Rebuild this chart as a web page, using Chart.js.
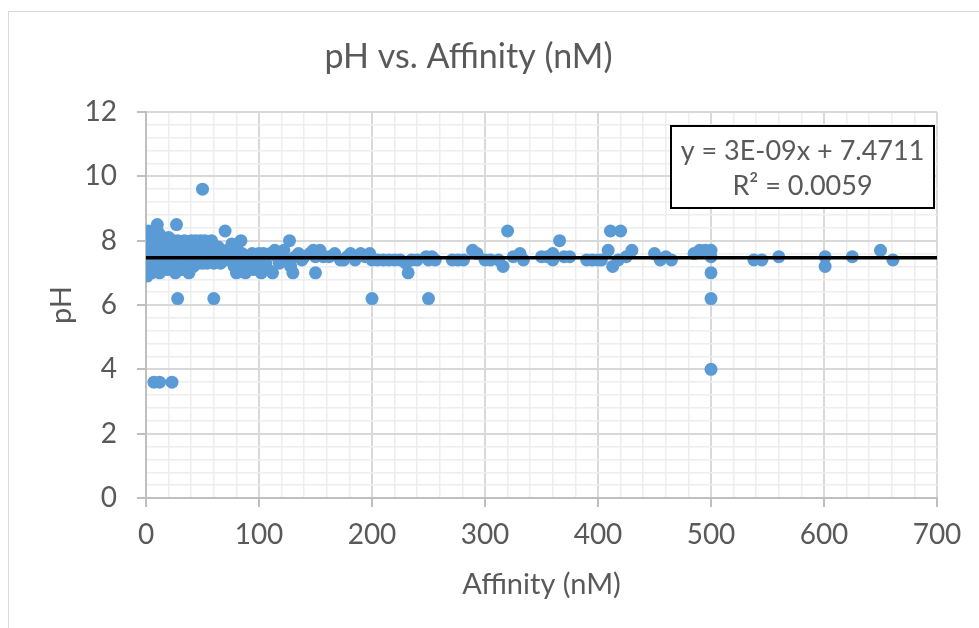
<!DOCTYPE html>
<html>
<head>
<meta charset="utf-8">
<script src="https://cdn.jsdelivr.net/npm/chart.js@4"></script>
<style>
  html, body { margin: 0; padding: 0; background: #fff; overflow: hidden; }
  #wrap { position: relative; width: 979px; height: 628px; }
  #frame { position: absolute; left: 8px; top: 11px; width: 1100px; height: 800px; border: 1.5px solid #d9d9d9; box-sizing: border-box; }
  canvas { position: absolute; left: 0; top: 0; }
</style>
</head>
<body>
<div id="wrap">
  <div id="frame"></div>
  <canvas id="c" width="979" height="628"></canvas>
</div>
<script>
// ---- Data ----
const affinity = [
  // 0-20 nM
  0,0,0,0,0,1,1,1,2,2,3,3,4,4,4,5,5,6,6,7,7,8,8,9,9,10,10,11,11,12,12,13,13,14,15,15,16,17,18,19,19,20,20,10,27,
  7,12,23,
  // 20-60 nM
  22,22,24,24,26,26,28,28,30,30,32,32,34,34,36,36,38,38,40,40,42,42,44,44,46,46,48,48,50,50,52,52,54,55,57,58,60,60,
  28,60,50,
  // 60-100 nM
  62,64,66,68,70,70,72,74,76,78,78,80,80,82,84,85,86,88,90,92,94,95,98,100,100,
  // 100-150 nM
  102,104,106,108,110,112,114,116,118,120,122,125,127,128,130,132,135,138,140,145,148,150,150,
  // 150-260 nM
  154,157,162,167,172,175,178,181,185,190,194,198,200,200,205,210,215,220,225,230,232,235,240,248,250,250,253,256,
  // 260-440 nM
  271,276,281,289,293,300,305,312,316,320,325,331,334,350,355,360,360,366,370,375,390,395,400,403,409,411,413,418,420,425,430,
  // 440-700 nM
  450,455,460,465,485,490,495,500,500,500,500,500,538,545,560,601,601,625,650,661
];
const ph = [
  // 0-20 nM
  7.0,7.4,7.6,8.0,8.2,6.9,7.2,7.8,7.5,8.3,7.1,7.9,7.3,7.6,8.1,7.0,7.7,7.4,8.2,7.2,7.9,7.5,8.0,7.1,7.7,7.3,8.3,7.6,7.9,7.0,8.2,7.4,7.8,7.2,7.6,8.0,7.3,7.8,7.5,7.1,7.9,7.6,8.1,8.5,8.5,
  3.6,3.6,3.6,
  // 20-60 nM
  7.2,7.8,7.5,8.0,7.0,7.7,7.3,8.0,7.5,7.9,7.1,7.7,7.4,8.0,7.2,7.8,7.0,7.6,7.4,8.0,7.2,7.8,7.5,8.0,7.3,7.7,7.5,8.0,7.3,7.8,7.5,8.0,7.3,7.7,7.5,8.0,7.3,7.8,
  6.2,6.2,9.6,
  // 60-100 nM
  7.5,7.8,7.3,7.6,8.3,7.4,7.7,7.5,7.9,7.2,7.6,7.0,7.8,7.4,8.0,7.6,7.2,7.0,7.5,7.3,7.6,7.1,7.4,7.6,7.2,
  // 100-150 nM
  7.0,7.6,7.3,7.1,7.6,7.0,7.7,7.5,7.3,7.5,7.7,7.4,8.0,7.2,7.0,7.5,7.6,7.4,7.5,7.6,7.7,7.0,7.5,
  // 150-260 nM
  7.7,7.5,7.5,7.6,7.4,7.4,7.5,7.6,7.4,7.6,7.5,7.6,7.4,6.2,7.4,7.4,7.4,7.4,7.4,7.3,7.0,7.4,7.4,7.5,7.4,6.2,7.5,7.4,
  // 260-440 nM
  7.4,7.4,7.4,7.7,7.6,7.4,7.4,7.4,7.2,8.3,7.5,7.6,7.4,7.5,7.5,7.6,7.4,8.0,7.5,7.5,7.4,7.4,7.4,7.4,7.7,8.3,7.2,7.4,8.3,7.5,7.7,
  // 440-700 nM
  7.6,7.4,7.5,7.4,7.6,7.7,7.7,7.7,7.5,7.0,6.2,4.0,7.4,7.4,7.5,7.5,7.2,7.5,7.7,7.4
];
// Linear trendline reported in the chart
const trendSlope = 3e-9;
const trendIntercept = 7.4711;
const trendText = ["y = 3E-09x + 7.4711", "R\u00B2 = 0.0059"];
const xTickLabels = [0, 100, 200, 300, 400, 500, 600, 700];
const yTickLabels = [0, 2, 4, 6, 8, 10, 12];

const points = affinity.map((x, i) => ({ x: x, y: ph[i] }));
const trendPoints = [0, 700].map(x => ({ x: x, y: trendSlope * x + trendIntercept }));

const FONT = 'Lato, "Open Sans", sans-serif';
const TXT = '#595959';
const isMult = (v, m) => Math.abs(v / m - Math.round(v / m)) < 1e-6;

const eqBox = {
  id: 'eqBox',
  afterDraw(chart) {
    const a = chart.chartArea, ctx = chart.ctx;
    const w = 263, h = 82;
    const x0 = a.right - 3 - w, y0 = a.top + 14;
    ctx.save();
    ctx.fillStyle = '#fff';
    ctx.fillRect(x0, y0, w, h);
    ctx.lineWidth = 2;
    ctx.strokeStyle = '#000';
    ctx.strokeRect(x0, y0, w, h);
    ctx.fillStyle = TXT;
    ctx.font = '27px ' + FONT;
    ctx.textAlign = 'center';
    ctx.textBaseline = 'middle';
    ctx.fillText(trendText[0], x0 + w / 2, y0 + 25);
    ctx.fillText(trendText[1], x0 + w / 2, y0 + 60);
    ctx.restore();
  }
};

new Chart(document.getElementById('c'), {
  type: 'scatter',
  data: {
    datasets: [
      {
        label: 'pH',
        data: points,
        backgroundColor: '#5b9bd5',
        borderWidth: 0,
        pointRadius: 6.5,
        pointHoverRadius: 6.5,
        order: 1
      },
      {
        type: 'line',
        label: 'Linear (pH)',
        data: trendPoints,
        borderColor: '#000',
        borderWidth: 3.5,
        pointRadius: 0,
        fill: false,
        order: 0
      }
    ]
  },
  options: {
    responsive: false,
    animation: false,
    events: [],
    layout: { padding: { left: 0, right: 42, top: 0, bottom: 0 } },
    plugins: {
      legend: { display: false },
      tooltip: { enabled: false },
      title: {
        display: true,
        text: 'pH vs. Affinity (nM)',
        color: TXT,
        font: { family: FONT, size: 34, weight: 'normal' },
        padding: { top: 36.6, bottom: 34.6 }
      }
    },
    scales: {
      x: {
        type: 'linear',
        min: 0, max: 700,
        afterBuildTicks(scale) {
          const t = [];
          for (let v = 0; v <= 700; v += 20) t.push({ value: v });
          scale.ticks = t;
        },
        ticks: {
          color: TXT,
          font: { family: FONT, size: 28 },
          padding: 11,
          maxRotation: 0,
          autoSkip: false,
          callback: v => (isMult(v, 100) && xTickLabels.includes(Math.round(v))) ? String(Math.round(v)) : ''
        },
        grid: {
          color: c => isMult(c.tick.value, 100) ? '#d9d9d9' : '#eeeeee',
          lineWidth: c => isMult(c.tick.value, 100) ? 2 : 1.5,
          tickColor: c => isMult(c.tick.value, 100) ? '#bfbfbf' : 'rgba(0,0,0,0)',
          tickLength: 9,
          drawTicks: true
        },
        border: { color: '#bfbfbf', width: 2 },
        title: {
          display: true,
          text: 'Affinity (nM)',
          color: TXT,
          font: { family: FONT, size: 29 },
          padding: { top: 5, bottom: 25.6 }
        }
      },
      y: {
        type: 'linear',
        min: 0, max: 12,
        afterBuildTicks(scale) {
          const t = [];
          for (let i = 0; i <= 30; i++) t.push({ value: Math.round(i * 0.4 * 10) / 10 });
          scale.ticks = t;
        },
        afterFit(scale) { scale.width = 146; },
        ticks: {
          color: TXT,
          font: { family: FONT, size: 28 },
          padding: 20,
          autoSkip: false,
          callback: v => (isMult(v, 2) && yTickLabels.includes(Math.round(v))) ? String(Math.round(v)) : ''
        },
        grid: {
          color: c => isMult(c.tick.value, 2) ? '#d9d9d9' : '#eeeeee',
          lineWidth: c => isMult(c.tick.value, 2) ? 2 : 1.5,
          tickColor: c => isMult(c.tick.value, 2) ? '#bfbfbf' : 'rgba(0,0,0,0)',
          tickLength: 9,
          drawTicks: true
        },
        border: { color: '#bfbfbf', width: 2 },
        title: {
          display: true,
          text: 'pH',
          color: TXT,
          font: { family: FONT, size: 29 },
          padding: { top: 44.6, bottom: 0 }
        }
      }
    }
  },
  plugins: [eqBox]
});
</script>
</body>
</html>
